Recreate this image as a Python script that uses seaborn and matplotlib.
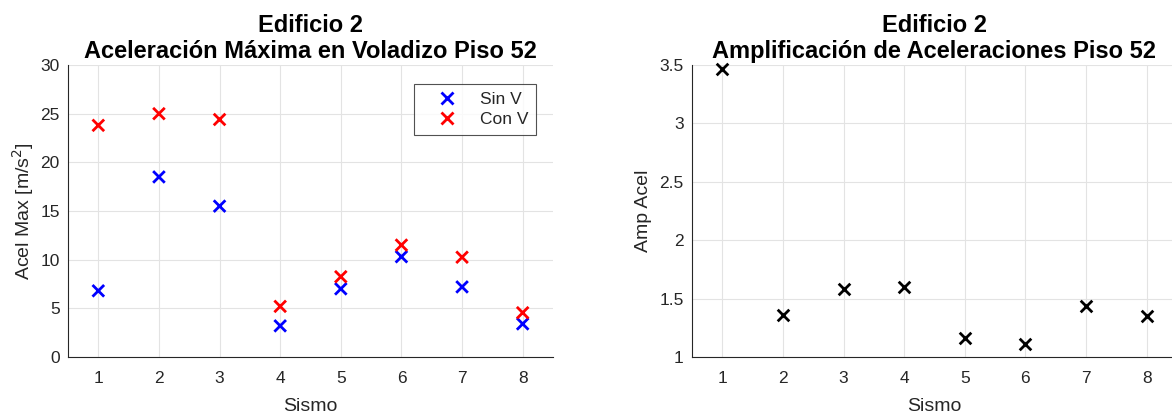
import numpy as np
import pandas as pd
import matplotlib
matplotlib.use("Agg")
import matplotlib.pyplot as plt
from matplotlib.ticker import FuncFormatter
import seaborn as sns

# Earthquake records (Sismo) and peak accelerations at floor 52 cantilever
sismo = [1, 2, 3, 4, 5, 6, 7, 8]
acel_sin_v = [6.8, 18.5, 15.5, 3.2, 7.0, 10.3, 7.2, 3.4]
acel_con_v = [23.8, 25.0, 24.4, 5.2, 8.25, 11.5, 10.25, 4.55]
amp_acel = [3.47, 1.36, 1.58, 1.60, 1.16, 1.11, 1.44, 1.35]
series_names = ["Sin V", "Con V"]

sns.set_theme(style="white")
plt.rcParams["font.family"] = ["Liberation Sans", "DejaVu Sans"]

text_col = "#262626"
grid_col = "#e3e3e3"

df = pd.DataFrame({
    "Sismo": sismo * 2,
    "Acel": acel_sin_v + acel_con_v,
    "Serie": [series_names[0]] * len(sismo) + [series_names[1]] * len(sismo),
})
df_amp = pd.DataFrame({"Sismo": sismo, "Amp": amp_acel})

fig = plt.figure(figsize=(11.72, 4.17), dpi=100)
ax1 = fig.add_axes([68 / 1172, 60 / 417, 485 / 1172, 292 / 417])
ax2 = fig.add_axes([692 / 1172, 60 / 417, 485 / 1172, 292 / 417])


def style_axes(ax):
    ax.grid(True, color=grid_col, linewidth=0.8)
    ax.set_axisbelow(True)
    for side in ("top", "right"):
        ax.spines[side].set_visible(False)
    for side in ("left", "bottom"):
        ax.spines[side].set_color(text_col)
        ax.spines[side].set_linewidth(0.8)
    ax.tick_params(axis="both", direction="in", length=3, width=0.6,
                   colors=text_col, labelsize=12.5, pad=6)
    ax.tick_params(axis="x", pad=10)
    ax.set_xlim(0.5, 8.5)
    ax.set_xticks(sismo)
    ax.set_xlabel("Sismo", fontsize=14, color=text_col, labelpad=9)


sns.scatterplot(data=df, x="Sismo", y="Acel", hue="Serie",
                palette={"Sin V": "#0000ff", "Con V": "#ff0000"},
                marker="x", s=70, linewidth=2.0, ax=ax1, zorder=3)
style_axes(ax1)
ax1.set_ylim(0, 30)
ax1.set_yticks(np.arange(0, 31, 5))
ax1.set_ylabel("Acel Max [m/s$^2$]", fontsize=14, color=text_col, labelpad=3)
ax1.set_title("Edificio 2\nAceleración Máxima en Voladizo Piso 52",
              fontsize=17, fontweight="bold", color="black", pad=5,
              linespacing=1.18)
handles, labels = ax1.get_legend_handles_labels()
leg = ax1.legend(handles, labels, loc="upper right",
                 bbox_to_anchor=(0.965, 0.935), fontsize=12.5, frameon=True,
                 fancybox=False, edgecolor=text_col, handletextpad=0.45,
                 borderpad=0.45, labelspacing=0.3, handlelength=2.9,
                 borderaxespad=0)
leg.get_frame().set_linewidth(0.8)
for t in leg.get_texts():
    t.set_color(text_col)

sns.scatterplot(data=df_amp, x="Sismo", y="Amp", color="black",
                marker="x", s=70, linewidth=2.0, ax=ax2, zorder=3)
style_axes(ax2)
ax2.set_ylim(1, 3.5)
ax2.set_yticks(np.arange(1, 3.51, 0.5))
ax2.yaxis.set_major_formatter(FuncFormatter(lambda v, p: f"{v:g}"))
ax2.set_ylabel("Amp Acel", fontsize=14, color=text_col, labelpad=5)
ax2.set_title("Edificio 2\nAmplificación de Aceleraciones Piso 52",
              fontsize=17, fontweight="bold", color="black", pad=5,
              linespacing=1.18)
for coll in ax2.collections:
    coll.set_clip_on(False)

fig.savefig("out.png", dpi=100)
